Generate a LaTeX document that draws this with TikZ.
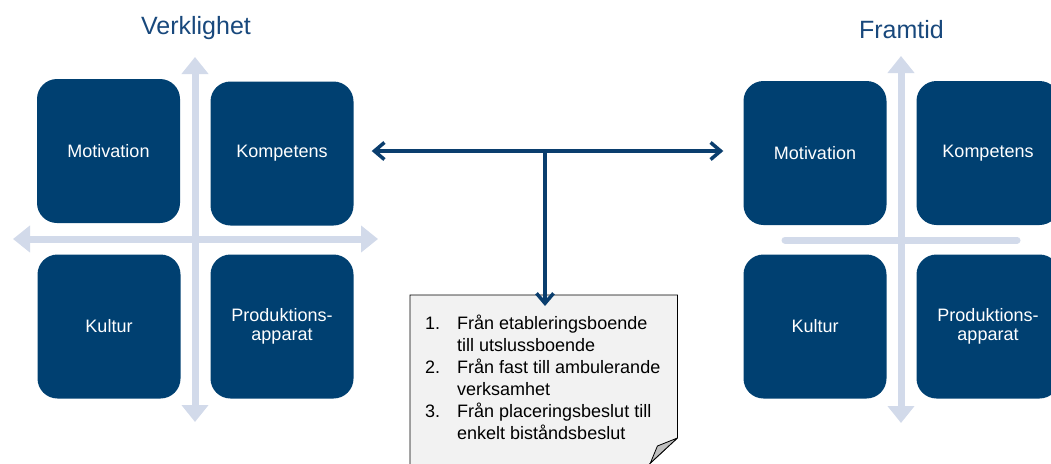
\documentclass[tikz,border=0pt]{standalone}
\usepackage{fontspec}
\setmainfont{Liberation Sans}
\usetikzlibrary{arrows.meta,backgrounds}
\definecolor{boxblue}{RGB}{0,64,113}
\definecolor{axisgray}{RGB}{210,218,234}
\definecolor{titleblue}{RGB}{24,72,124}
\definecolor{connblue}{RGB}{10,62,110}
\definecolor{notefill}{RGB}{242,242,242}
\definecolor{foldfill}{RGB}{192,192,192}
\begin{document}
\begin{tikzpicture}[x=1pt,y=-1pt,
  quad/.style={fill=boxblue, rounded corners=20pt, minimum width=143pt, minimum height=144pt,
    inner sep=0pt, text=white, font=\fontsize{18}{19}\selectfont, align=center},
  axisline/.style={draw=axisgray, line width=7pt},
  axisarrow/.style={axisline, {Triangle[width=26pt,length=17pt]}-{Triangle[width=26pt,length=17pt]}},
  conn/.style={draw=connblue, line width=3.5pt},
  connboth/.style={conn, {Straight Barb[length=10pt,width=17pt]}-{Straight Barb[length=10pt,width=17pt]}},
  connend/.style={conn, -{Straight Barb[length=10pt,width=17pt]}},
  title/.style={text=titleblue, font=\fontsize{25}{29}\selectfont, inner sep=0pt, anchor=base},
  notebox/.style={anchor=north west, inner xsep=15pt, inner ysep=19pt, font=\fontsize{18}{22}\selectfont},
  noteline/.style={fill=notefill, draw=black, line width=0.8pt},
  foldline/.style={fill=foldfill, draw=black, line width=0.8pt, line join=round},
]
\useasboundingbox (0,0) rectangle (1051,463);
\clip (0,0) rectangle (1051,463);

% titles
\node[title] (t1) at (196,34) {Verklighet};
\node[title] (t2) at (901.5,38) {Framtid};

% axes left
\coordinate (LT) at (195,57);
\coordinate (LB) at (195,422);
\coordinate (LL) at (13,239);
\coordinate (LR) at (378,239);
\draw[axisarrow] (LB) -- (LT);
\draw[axisarrow] (LL) -- (LR);

% axes right
\coordinate (RT) at (901,56);
\coordinate (RB) at (901,423);
\coordinate (RL) at (785,240);
\coordinate (RR) at (1017,240);
\draw[axisarrow] (RB) -- (RT);
\draw[axisline, line cap=round] (RL) -- (RR);

% left quadrant
\node[quad] (M1) at (108.5,151) {Motivation};
\node[quad] (K1) at (282,153.5) {Kompetens};
\node[quad] (C1) at (109,326.5) {Kultur};
\node[quad] (P1) at (282,326.5) {Produktions-\\apparat};

% right quadrant
\node[quad] (M2) at (815,153) {Motivation};
\node[quad] (K2) at (988,153) {Kompetens};
\node[quad] (C2) at (815,326.5) {Kultur};
\node[quad] (P2) at (988,326.5) {Produktions-\\apparat};

% note
\node[notebox] (note) at (410,295) {%
  \begin{tabular}[t]{@{}p{32pt}@{}p{205pt}@{}}
  1. & Från etableringsboende\\
     & till utslussboende\\
  2. & Från fast till ambulerande\\
     & verksamhet\\
  3. & Från placeringsbeslut till\\
     & enkelt biståndsbeslut
  \end{tabular}};
\coordinate (fold) at ([yshift=-143pt]note.north east);
\begin{scope}[on background layer]
\path[noteline] (note.north west) -- (note.north east) -- (fold) -- ++(-29,27) -- (note.south west) -- cycle;
\end{scope}
\path[foldline] (fold) -- ++(-20,8) -- ++(-7,17) -- cycle;

% connectors
\coordinate (hub) at (545,151);
\draw[connboth] ([xshift=18pt]K1.east |- hub) -- ([xshift=-20pt]M2.west |- hub);
\draw[connend] (hub) -- ([yshift=-11pt]note.north -| hub);
\end{tikzpicture}
\end{document}
